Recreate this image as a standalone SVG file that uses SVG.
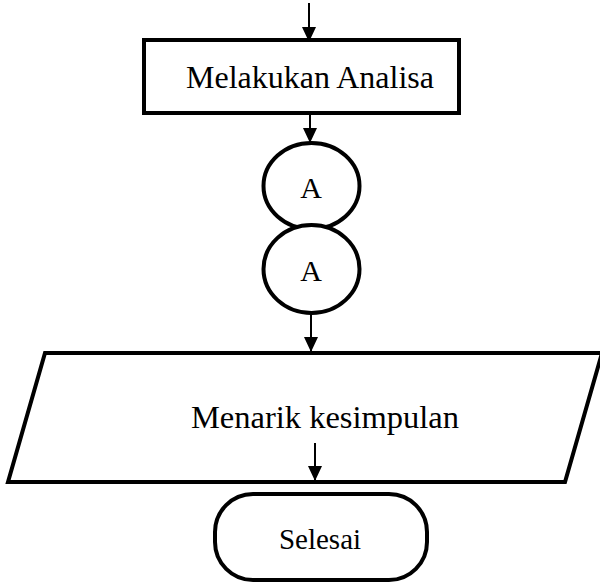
<svg xmlns="http://www.w3.org/2000/svg" width="600" height="583" viewBox="0 0 600 583">
<style>
.shape{fill:#fff;stroke:#000;stroke-width:4}
.conn{stroke:#000;stroke-width:2;fill:none}
.lbl{font-family:"Liberation Serif","Times New Roman",serif;fill:#000;text-anchor:middle}
</style>
<defs>
<marker id="ah" markerWidth="14" markerHeight="15" refX="15" refY="7" orient="auto" markerUnits="userSpaceOnUse">
<path d="M0,0 L15,7 L0,14 Z" fill="#000"/>
</marker>
</defs>
<g id="process">
<rect class="shape" x="144" y="40" width="315" height="73"/>
<text class="lbl" x="310" y="88" font-size="32">Melakukan Analisa</text>
</g>
<g id="connector1">
<ellipse class="shape" cx="311.5" cy="186" rx="48" ry="43"/>
<text class="lbl" x="311" y="198" font-size="30">A</text>
</g>
<g id="connector2">
<ellipse class="shape" cx="311.5" cy="269" rx="48" ry="44"/>
<text class="lbl" x="311" y="281" font-size="30">A</text>
</g>
<g id="io">
<polygon class="shape" points="45,353 602,353 565,482 8,482"/>
<text class="lbl" x="325" y="428" font-size="32.5">Menarik kesimpulan</text>
</g>
<g id="terminal">
<rect class="shape" x="215" y="494" width="212" height="86" rx="38" ry="38"/>
<text class="lbl" x="320" y="549" font-size="29">Selesai</text>
</g>
<g id="connectors">
<line class="conn" x1="309" y1="3" x2="309" y2="42" marker-end="url(#ah)"/>
<line class="conn" x1="310" y1="113" x2="310" y2="143" marker-end="url(#ah)"/>
<line class="conn" x1="311" y1="313" x2="311" y2="352" marker-end="url(#ah)"/>
<line class="conn" x1="315" y1="443" x2="315" y2="481" marker-end="url(#ah)"/>
</g>
</svg>
